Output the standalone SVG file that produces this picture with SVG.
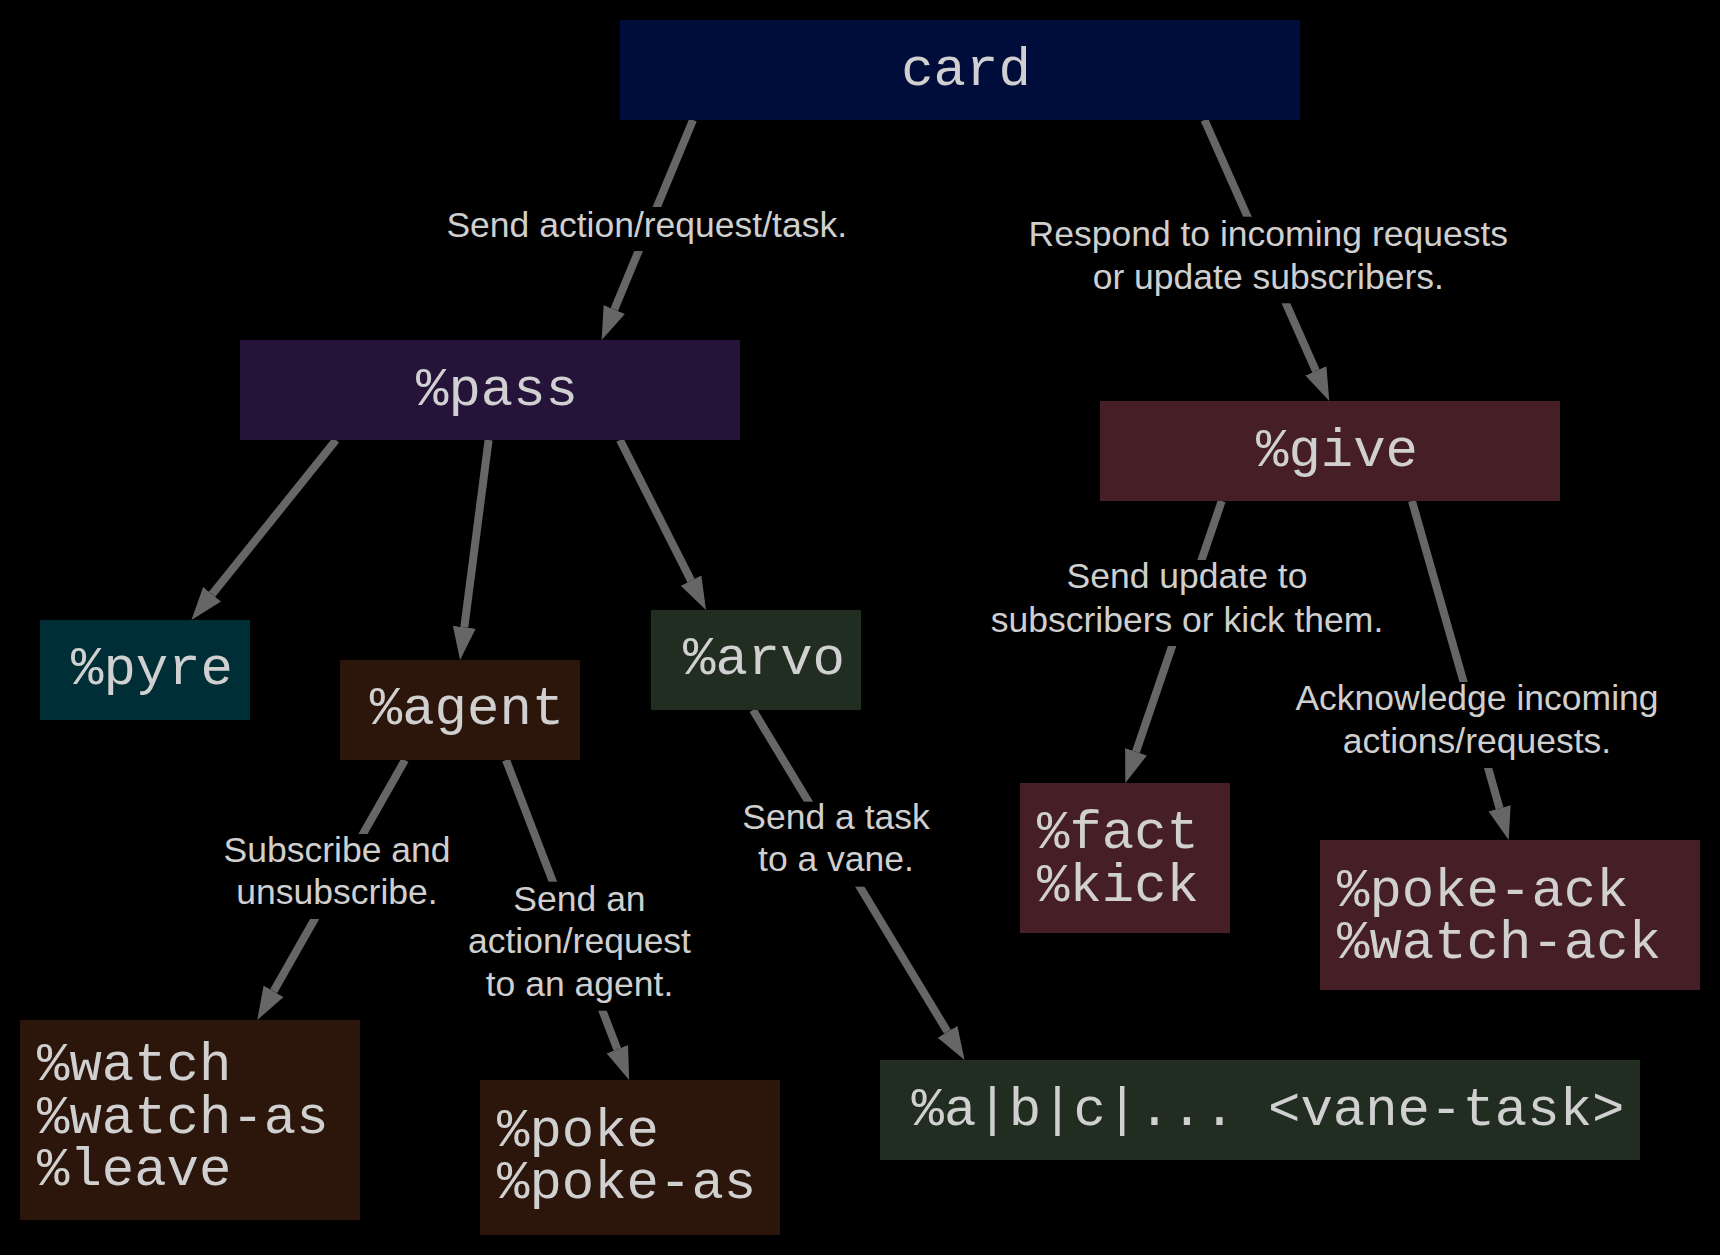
<svg xmlns="http://www.w3.org/2000/svg" width="1720" height="1255" viewBox="0 0 1720 1255">
<style>
.bg{fill:#000000}
.n text{font-family:"Liberation Mono","DejaVu Sans Mono",monospace;font-size:54px;fill:#d0d0d0}
.c{text-anchor:middle}
.e{stroke:#666666;stroke-width:8;fill:none;marker-end:url(#ah)}
.lb rect{fill:#000000}
.lb text{font-family:"Liberation Sans",Arial,sans-serif;font-size:35.5px;fill:#cfcfcf;text-anchor:middle}
.blue{fill:#000d3a}.purple{fill:#26133a}.red{fill:#461e25}.teal{fill:#002e36}.brown{fill:#2c150a}.green{fill:#212d21}
</style>
<defs>
<marker id="ah" markerUnits="userSpaceOnUse" viewBox="0 0 33 23" markerWidth="33" markerHeight="23" refX="0" refY="11.5" orient="auto">
<path d="M0,0 L33,11.5 L0,23 z" fill="#666666"/>
</marker>
</defs>
<rect class="bg" x="0" y="0" width="1720" height="1255"/>
<g id="edges">
<path class="e" d="M693,120 L614.3,309.5"/>
<path class="e" d="M1204.5,120 L1315.9,370.8"/>
<path class="e" d="M336,440 L212.1,594.3"/>
<path class="e" d="M488.6,440 L464.3,627.3"/>
<path class="e" d="M620,440 L691.1,580.6"/>
<path class="e" d="M1221.7,501 L1136,751.8"/>
<path class="e" d="M1412,501 L1499.6,808.3"/>
<path class="e" d="M405,760 L273.6,991.3"/>
<path class="e" d="M506,760 L617.3,1049.2"/>
<path class="e" d="M753,710 L947.5,1031.8"/>
</g>
<g id="edge-labels" class="lb">
<g id="l1"><rect x="440" y="207" width="413" height="44"/><text x="646.7" y="236.5">Send action/request/task.</text></g>
<g id="l2"><rect x="1020" y="216.7" width="497" height="86.6"/><text x="1268.3" y="245.7">Respond to incoming requests</text><text x="1268.3" y="289.3">or update subscribers.</text></g>
<g id="l3"><rect x="985" y="560" width="405" height="86"/><text x="1187" y="588.3">Send update to</text><text x="1187" y="631.5">subscribers or kick them.</text></g>
<g id="l4"><rect x="1290" y="682" width="374" height="86"/><text x="1477" y="710">Acknowledge incoming</text><text x="1477" y="752.7">actions/requests.</text></g>
<g id="l5"><rect x="218" y="834" width="238" height="85"/><text x="337" y="861.7">Subscribe and</text><text x="337" y="904.3">unsubscribe.</text></g>
<g id="l6"><rect x="463" y="881.7" width="234" height="129"/><text x="579.5" y="910.7">Send an</text><text x="579.5" y="953.3">action/request</text><text x="579.5" y="996">to an agent.</text></g>
<g id="l7"><rect x="737" y="801.7" width="199" height="85"/><text x="836" y="829.3">Send a task</text><text x="836" y="871">to a vane.</text></g>
</g>
<g id="card" class="n"><rect class="blue" x="620" y="20" width="680" height="100"/><text class="c" x="966" y="85">card</text></g>
<g id="pass" class="n"><rect class="purple" x="240" y="340" width="500" height="100"/><text class="c" x="497" y="405">%pass</text></g>
<g id="give" class="n"><rect class="red" x="1100" y="401" width="460" height="100"/><text class="c" x="1337" y="466">%give</text></g>
<g id="pyre" class="n"><rect class="teal" x="40" y="620" width="210" height="100"/><text class="c" x="152" y="684">%pyre</text></g>
<g id="agent" class="n"><rect class="brown" x="340" y="660" width="240" height="100"/><text class="c" x="467" y="724">%agent</text></g>
<g id="arvo" class="n"><rect class="green" x="651" y="610" width="210" height="100"/><text class="c" x="764" y="674">%arvo</text></g>
<g id="factkick" class="n"><rect class="red" x="1020" y="783" width="210" height="150"/><text x="1037" y="848.3">%fact</text><text x="1037" y="900.7">%kick</text></g>
<g id="acks" class="n"><rect class="red" x="1320" y="840" width="380" height="150"/><text x="1337" y="905.7">%poke-ack</text><text x="1337" y="958.3">%watch-ack</text></g>
<g id="watch" class="n"><rect class="brown" x="20" y="1020" width="340" height="200"/><text x="37" y="1080">%watch</text><text x="37" y="1132.7">%watch-as</text><text x="37" y="1185">%leave</text></g>
<g id="poke" class="n"><rect class="brown" x="480" y="1080" width="300" height="155"/><text x="497" y="1145.7">%poke</text><text x="497" y="1198.3">%poke-as</text></g>
<g id="vane" class="n"><rect class="green" x="880" y="1060" width="760" height="100"/><text class="c" x="1268" y="1125">%a|b|c|... &lt;vane-task&gt;</text></g>
</svg>
